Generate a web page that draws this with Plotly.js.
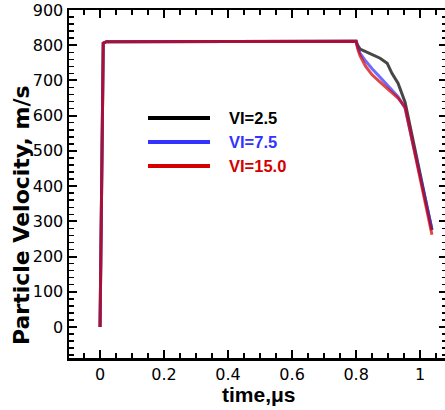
<!DOCTYPE html>
<html>
<head>
<meta charset="utf-8">
<script src="https://cdn.plot.ly/plotly-3.0.1.min.js"></script>
<style>
html,body{margin:0;padding:0;overflow:hidden;background:#fff;}
#chart{width:450px;height:410px;}
</style>
</head>
<body>
<div id="chart"></div>
<script>
// time (microseconds)
var time = [0, 0.01, 0.02, 0.1, 0.2, 0.3, 0.4, 0.5, 0.6, 0.7, 0.8, 0.805, 0.8125, 0.83, 0.85, 0.875, 0.897, 0.912, 0.931, 0.953, 0.97, 1.0, 1.037];
// particle velocity (m/s)
var vel_2_5  = [0, 806, 810, 810, 810, 811, 811, 811, 811, 811, 811, 800, 789, 782, 774, 763, 749, 720, 692, 638, 565, 435, 275];
var vel_7_5  = [0, 806, 810, 810, 810, 811, 811, 811, 811, 811, 811, 795, 777, 755, 733, 709, 688, 675, 654, 621, 552, 430, 278];
var vel_15_0 = [0, 806, 810, 810, 810, 811, 811, 811, 811, 811, 811, 790, 770, 740, 716, 695, 678, 666, 650, 625, 552, 423, 262];

var seriesNames  = ["VI=2.5", "VI=7.5", "VI=15.0"];
var seriesValues = [vel_2_5, vel_7_5, vel_15_0];
var seriesColors = ["#000000", "#3333ff", "#d40000"];

var traces = seriesValues.map(function(v, i){
  return {x: time, y: v, type: 'scatter', mode: 'lines', name: seriesNames[i],
          line: {color: seriesColors[i], width: 3}, opacity: 0.72, showlegend: false};
});

var legX0 = 0.209, legX1 = 0.373, legTextX = 0.418;
var legY = [0.690, 0.621, 0.552];
var shapes = [], annotations = [];
seriesNames.forEach(function(n, i){
  shapes.push({type:'line', xref:'paper', yref:'paper', x0:legX0, x1:legX1, y0:legY[i], y1:legY[i],
               line:{color:seriesColors[i], width:4}});
  annotations.push({xref:'paper', yref:'paper', x:legTextX, y:legY[i], xanchor:'left', yanchor:'middle',
               text:'<b>'+n+'</b>', showarrow:false,
               font:{family:'Arial, Liberation Sans, sans-serif', size:16.5, color:seriesColors[i]}});
});
annotations.push({xref:'paper', yref:'paper', x:-0.124, y:0.411, xanchor:'center', yanchor:'middle',
  textangle:-90, showarrow:false, text:'<b>Particle Velocity, m/s</b>',
  font:{family:'DejaVu Sans, sans-serif', size:22, color:'#000'}});
annotations.push({xref:'paper', yref:'paper', x:0.503, y:-0.104, xanchor:'center', yanchor:'middle',
  showarrow:false, text:'<b>time,μs</b>',
  font:{family:'Arial, Liberation Sans, sans-serif', size:21, color:'#000'}});

var axisCommon = {
  showgrid:false, zeroline:false, showline:true, linecolor:'#000', linewidth:2.5,
  mirror:'allticks', ticks:'inside', ticklen:8, tickwidth:2, tickcolor:'#000',
  tickfont:{family:'DejaVu Sans, sans-serif', size:16, color:'#000'}
};

var layout = {
  width:450, height:410,
  margin:{l:69, r:3, t:10, b:52},
  paper_bgcolor:'#fff', plot_bgcolor:'#fff',
  xaxis: Object.assign({}, axisCommon, {range:[-0.097, 1.084], tickvals:[0,0.2,0.4,0.6,0.8,1],
          ticktext:['0','0.2','0.4','0.6','0.8','1'],
          minor:{dtick:0.05, tick0:0, ticks:'inside', ticklen:5, tickwidth:1.5, tickcolor:'#000'}}),
  yaxis: Object.assign({}, axisCommon, {range:[-88, 900], dtick:100, tick0:0,
          minor:{dtick:20, tick0:0, ticks:'inside', ticklen:5, tickwidth:1.5, tickcolor:'#000'}}),
  shapes: shapes,
  annotations: annotations
};

Plotly.newPlot('chart', traces, layout, {displayModeBar:false, staticPlot:true});
</script>
</body>
</html>
